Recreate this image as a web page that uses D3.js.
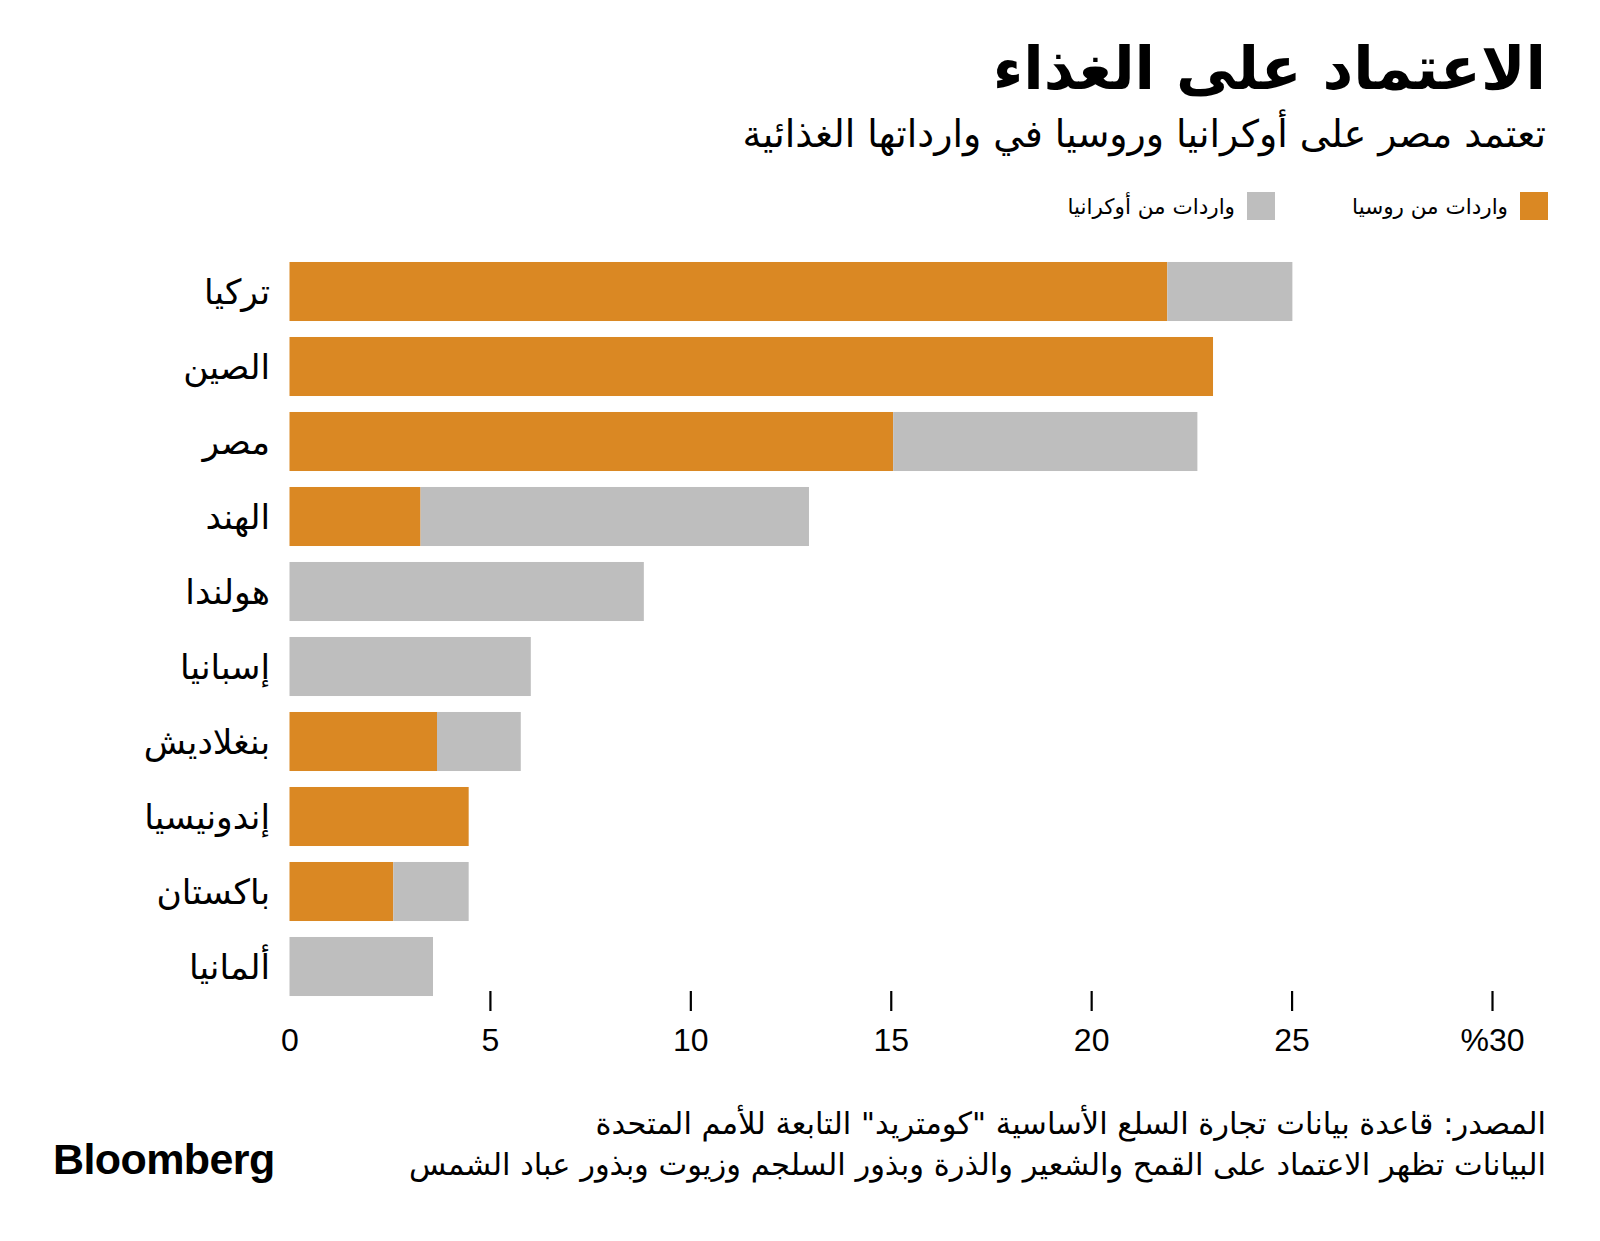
<!DOCTYPE html>
<html><head><meta charset="utf-8">
<script src="https://cdn.jsdelivr.net/npm/d3@7"></script>
<style>
html,body{margin:0;padding:0;background:#fff;}
svg{display:block;}
.ar{font-family:"DejaVu Sans","Noto Sans",sans-serif;}
</style></head>
<body>
<svg id="chart" width="1600" height="1241"></svg>
<script>
const categories = ["تركيا","الصين","مصر","الهند","هولندا","إسبانيا","بنغلاديش","إندونيسيا","باكستان","ألمانيا"];
const russia  = [21.9, 23.04, 15.06, 3.27, 0, 0, 3.68, 4.47, 2.59, 0];
const ukraine = [3.12, 0, 7.59, 9.69, 8.84, 6.02, 2.09, 0, 1.88, 3.58];
const tickValues = [0,5,10,15,20,25,30];
const tickLabels = ["0","5","10","15","20","25","%30"];
const seriesNames = ["واردات من روسيا","واردات من أوكرانيا"];
const colors = ["#DA8823","#BEBEBE"];
const title = "الاعتماد على الغذاء";
const subtitle = "تعتمد مصر على أوكرانيا وروسيا في وارداتها الغذائية";
const source1 = "المصدر: قاعدة بيانات تجارة السلع الأساسية \"كومتريد\" التابعة للأمم المتحدة";
const source2 = "البيانات تظهر الاعتماد على القمح والشعير والذرة وبذور السلجم وزيوت وبذور عباد الشمس";

const svg = d3.select("#chart");
const RIGHT = 1546;

function arText(x, y, txt, size, weight){
  return svg.append("text").attr("class","ar")
    .attr("x", x).attr("y", y)
    .attr("direction","rtl").attr("text-anchor","start")
    .style("font-size", size+"px").style("font-weight", weight||"normal")
    .attr("fill","#000").text(txt);
}

// Title / subtitle
arText(RIGHT, 89, title, 59.8, "bold");
arText(RIGHT, 147, subtitle, 37.8);

// Legend
const legend = [{x:1520, tx:1508},{x:1247, tx:1235}];
legend.forEach((l,i)=>{
  svg.append("rect").attr("x", l.x).attr("y", 192).attr("width", 28).attr("height", 28).attr("fill", colors[i]);
  arText(l.tx, 214, seriesNames[i], 21.5);
});

// Scales
const x = d3.scaleLinear().domain([0,30]).range([289.5, 1492]);
const y = d3.scaleBand().domain(categories).range([254, 1004]).paddingInner(0.213).paddingOuter(0.1065);

const rows = categories.map((c,i)=>({c, r:russia[i], u:ukraine[i]}));
const g = svg.append("g");
rows.forEach(d=>{
  if (d.r>0) g.append("rect").attr("x", x(0)).attr("y", y(d.c)).attr("width", x(d.r)-x(0)).attr("height", y.bandwidth()).attr("fill", colors[0]);
  if (d.u>0) g.append("rect").attr("x", x(d.r)).attr("y", y(d.c)).attr("width", x(d.r+d.u)-x(d.r)).attr("height", y.bandwidth()).attr("fill", colors[1]);
});

// Category labels
categories.forEach(c=>{
  svg.append("text").attr("class","ar")
    .attr("x", 270).attr("y", y(c)+y.bandwidth()/2)
    .attr("text-anchor","end").attr("dominant-baseline","central")
    .style("font-size","34.5px").attr("fill","#000").text(c);
});

// Axis
const axis = d3.axisBottom(x).tickValues(tickValues).tickSize(20).tickPadding(17)
  .tickFormat((d,i)=>tickLabels[i]);
const ax = svg.append("g").attr("transform","translate(0,991)").call(axis);
ax.select(".domain").remove();
ax.selectAll(".tick line").attr("stroke","#000").attr("stroke-width",2.2)
  .attr("opacity", d=> d===0 ? 0 : 1);
ax.selectAll(".tick text").attr("fill","#000")
  .style("font-family","'Liberation Sans',Arial,sans-serif")
  .style("font-size","32px");

// Footer
arText(RIGHT, 1134, source1, 30.5);
arText(RIGHT, 1175, source2, 30.5);

svg.append("text").attr("x", 53).attr("y", 1174)
  .style("font-family","'Liberation Sans',Arial,sans-serif").style("font-weight","bold")
  .style("font-size","43px").style("letter-spacing","-0.6px").attr("fill","#000").text("Bloomberg");
</script>
</body></html>
